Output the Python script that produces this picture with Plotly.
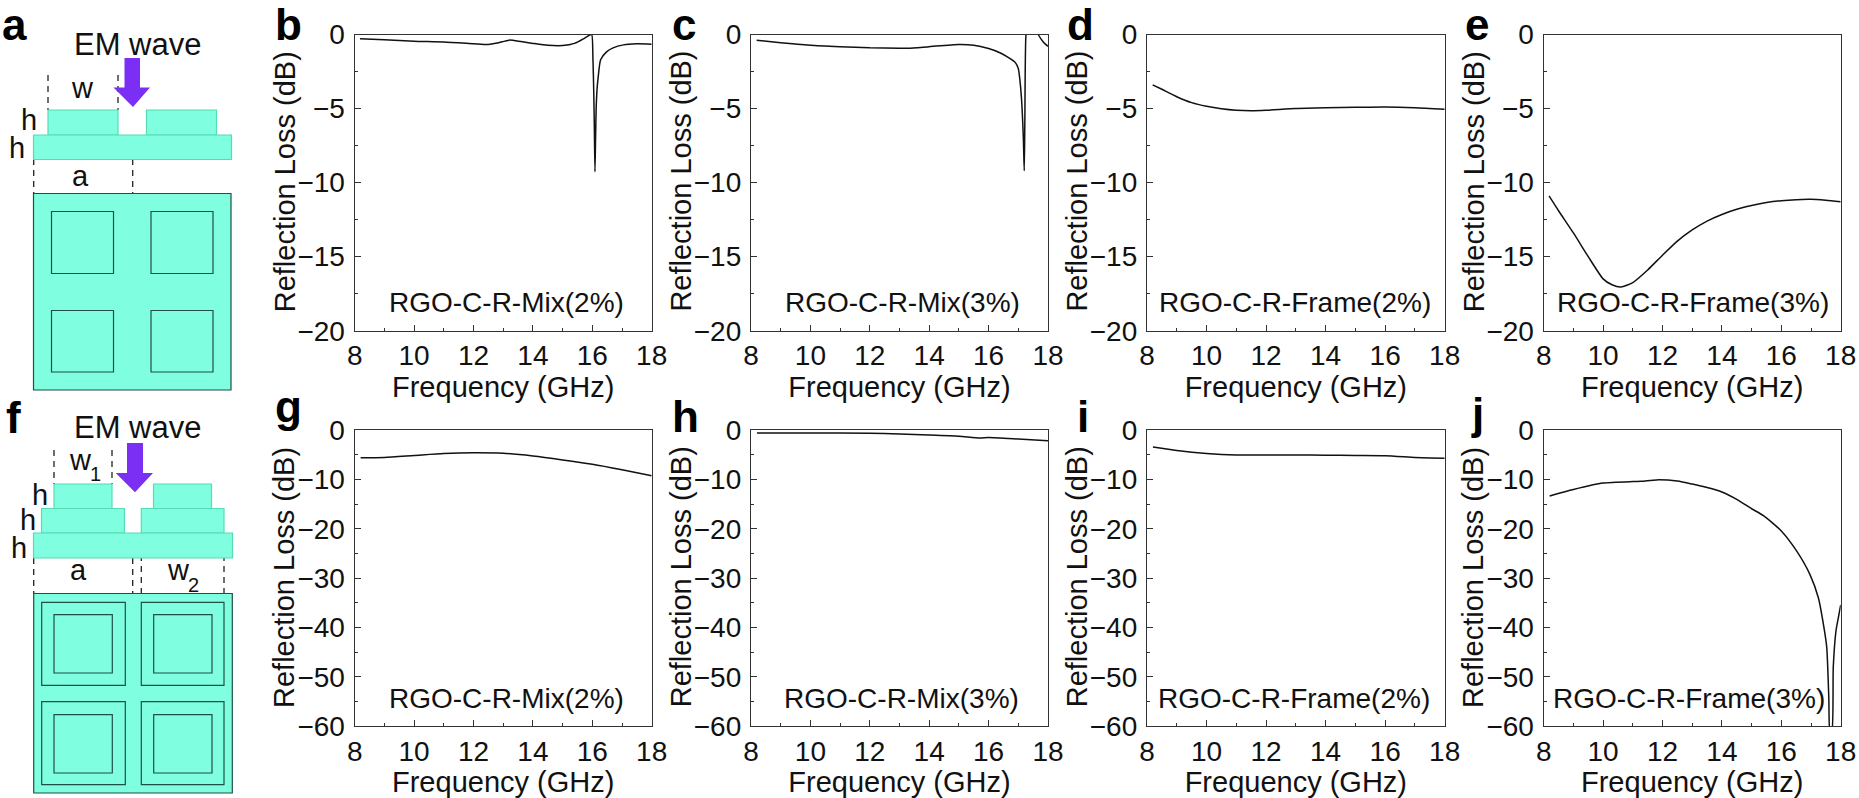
import plotly.graph_objects as go

W, H = 1859, 798
FONT = "Liberation Sans"

freq_b = [8.18, 9, 10, 11, 12, 12.5, 12.8, 13.2, 13.6, 14, 14.5, 15, 15.4, 15.7, 15.9, 15.98, 16.02, 16.05, 16.07, 16.09, 16.11, 16.13, 16.16, 16.2, 16.28, 16.48, 16.7, 17.05, 17.5, 18]
loss_b = [-0.29, -0.36, -0.45, -0.5, -0.62, -0.68, -0.58, -0.38, -0.48, -0.6, -0.73, -0.75, -0.6, -0.3, -0.05, 0, -1.5, -4, -6.5, -9.27, -7, -5, -3.7, -2.85, -1.7, -1.17, -0.9, -0.7, -0.63, -0.65]
freq_c = [8.19, 9, 10, 11, 12, 13, 13.3, 14, 15, 15.5, 16, 16.4, 16.7, 16.9, 17.0, 17.05, 17.11, 17.17, 17.2, 17.22, 17.26, 17.3, 17.6, 17.67, 17.84, 18]
loss_c = [-0.38, -0.55, -0.72, -0.82, -0.9, -0.92, -0.93, -0.82, -0.67, -0.72, -0.95, -1.25, -1.6, -1.9, -2.3, -3, -4.4, -7, -9.2, -6, 0, 0.3, 0.3, 0, -0.5, -0.8]
freq_d = [8.19, 8.5, 9, 9.5, 10, 10.5, 11, 11.5, 12, 13, 14, 15, 16, 17, 18]
loss_d = [-3.4, -3.7, -4.2, -4.6, -4.85, -5.02, -5.12, -5.15, -5.12, -5.0, -4.95, -4.92, -4.9, -4.95, -5.05]
freq_e = [8.18, 8.5, 9, 9.5, 10, 10.3, 10.6, 11, 11.5, 12, 12.5, 13, 13.5, 14, 14.5, 15, 15.5, 16, 16.5, 17, 17.5, 18]
loss_e = [-10.9, -11.9, -13.4, -15, -16.5, -16.9, -17.05, -16.75, -15.9, -14.9, -13.95, -13.2, -12.6, -12.15, -11.8, -11.55, -11.35, -11.22, -11.15, -11.13, -11.2, -11.3]
freq_g = [8.2, 9, 10, 11, 12, 13, 14, 15, 16, 17, 18]
loss_g = [-5.55, -5.5, -5.1, -4.7, -4.55, -4.65, -5.2, -6, -6.9, -8, -9.2]
freq_h = [8.2, 10, 12, 13, 14, 15, 15.7, 16, 17, 18]
loss_h = [-0.55, -0.55, -0.6, -0.75, -0.95, -1.2, -1.55, -1.45, -1.75, -2.1]
freq_i = [8.2, 9, 10, 11, 12, 13, 14, 15, 16, 17, 17.5, 18]
loss_i = [-3.4, -4.1, -4.7, -5, -5, -5, -5.05, -5.1, -5.15, -5.5, -5.6, -5.65]
freq_j = [8.2, 9, 10, 11, 11.3, 11.8, 12.5, 13, 13.5, 14, 14.5, 15, 15.4, 16, 16.52, 16.97, 17.25, 17.42, 17.53, 17.6, 17.64, 17.7, 17.75, 17.84, 17.92, 18]
loss_j = [-13.3, -12, -10.7, -10.4, -10.35, -10.05, -10.3, -10.9, -11.6, -12.5, -14, -15.9, -17.3, -20.4, -24.5, -29.3, -34, -39.4, -44, -54.3, -61, -61, -48, -40.7, -38, -35.4]

panel_labels = ["RGO-C-R-Mix(2%)", "RGO-C-R-Mix(3%)", "RGO-C-R-Frame(2%)", "RGO-C-R-Frame(3%)"]
x_ticks = [8, 10, 12, 14, 16, 18]
y_ticks_top = [0, -5, -10, -15, -20]
y_ticks_bottom = [0, -10, -20, -30, -40, -50, -60]
x_title = "Frequency (GHz)"
y_title = "Reflection Loss (dB)"

# panel boxes in pixels: left, right, top, bottom
COLS = [(354.7, 651.7), (751, 1048), (1147, 1444.7), (1543.7, 1840.7)]
ROWS = [(34.5, 330.7), (430.3, 726.3)]

panels = [
    ("b", freq_b, loss_b, 0, 0, panel_labels[0], 506),
    ("c", freq_c, loss_c, 1, 0, panel_labels[1], 902.5),
    ("d", freq_d, loss_d, 2, 0, panel_labels[2], 1294.5),
    ("e", freq_e, loss_e, 3, 0, panel_labels[3], 1693),
    ("g", freq_g, loss_g, 0, 1, panel_labels[0], 506.5),
    ("h", freq_h, loss_h, 1, 1, panel_labels[1], 901.7),
    ("i", freq_i, loss_i, 2, 1, panel_labels[2], 1294),
    ("j", freq_j, loss_j, 3, 1, panel_labels[3], 1689),
]
letter_pos = {"a": (14, 25), "b": (288, 25), "c": (684, 25), "d": (1080, 25), "e": (1477, 25),
              "f": (13, 417), "g": (288, 406), "h": (685, 416), "i": (1083, 416), "j": (1477, 413)}

AQUA = "#7FFFDF"
CROSS_EDGE = "#55dcb4"
PLAN_EDGE = "#1f4f45"
PURPLE = "#7B2FF5"

fig = go.Figure()
annotations, shapes = [], []


def px_x(v):
    return v / W


def px_y(v):
    return 1 - v / H


def text(x, y, s, size, bold=False, anchor="center", color="#111111", angle=0):
    annotations.append(dict(x=px_x(x), y=px_y(y), xref="paper", yref="paper", text=f"<b>{s}</b>" if bold else s,
                            showarrow=False, xanchor=anchor, yanchor="middle", borderpad=0, textangle=angle,
                            font=dict(family=FONT, size=size, color=color)))


def rect(x0, y0, x1, y1, fill, edge, lw=1.2):
    shapes.append(dict(type="rect", xref="paper", yref="paper", x0=px_x(x0), x1=px_x(x1), y0=px_y(y0), y1=px_y(y1),
                       fillcolor=fill, line=dict(color=edge, width=lw), layer="above"))


def dash(x, y0, y1):
    shapes.append(dict(type="line", xref="paper", yref="paper", x0=px_x(x), x1=px_x(x), y0=px_y(y0), y1=px_y(y1),
                       line=dict(color="#222222", width=1.3, dash="6px,5px"), layer="above"))


def arrow(sx0, sx1, sy0, sy1, hx0, hx1, tx, ty):
    pts = [(sx0, sy0), (sx1, sy0), (sx1, sy1), (hx1, sy1), (tx, ty), (hx0, sy1), (sx0, sy1)]
    path = "M " + " L ".join(f"{px_x(a):.5f},{px_y(b):.5f}" for a, b in pts) + " Z"
    shapes.append(dict(type="path", xref="paper", yref="paper", path=path, fillcolor=PURPLE,
                       line=dict(color=PURPLE, width=0), layer="above"))


for i, (letter, xs, ys, c, r, label, label_x) in enumerate(panels, start=1):
    fig.add_trace(go.Scatter(x=xs, y=ys, mode="lines", line=dict(color="#111111", width=1.5, shape="spline", smoothing=0.6),
                             xaxis=f"x{i}", yaxis=f"y{i}", showlegend=False, hoverinfo="skip"))
    left, right = COLS[c]
    top, bottom = ROWS[r]
    ymin = -20 if r == 0 else -60
    yticks = y_ticks_top if r == 0 else y_ticks_bottom
    common = dict(showgrid=False, zeroline=False, showline=True, linecolor="#333333", linewidth=1.3, mirror=True,
                  ticks="inside", ticklen=6, tickwidth=1.2, tickcolor="#333333",
                  tickfont=dict(family=FONT, size=28, color="#111111"), automargin=False)
    fig.update_layout({
        f"xaxis{i}": dict(common, domain=[left / W, right / W], range=[8, 18], tickvals=x_ticks,
                          anchor=f"y{i}", minor=dict(ticks="inside", ticklen=3, dtick=1, tickcolor="#333333", tickwidth=1.2),
                          title=dict(text=x_title, font=dict(family=FONT, size=29, color="#111111"), standoff=0)),
        f"yaxis{i}": dict(common, domain=[1 - bottom / H, 1 - top / H], range=[ymin, 0], tickvals=yticks, ticklabelstandoff=3,
                          anchor=f"x{i}", minor=dict(ticks="inside", ticklen=3, dtick=2.5 if r == 0 else 5, tickcolor="#333333", tickwidth=1.2)),
    })
    text(left - 70, (top + bottom) / 2 - 1, y_title, 29, angle=-90)
    text(label_x, top + 268, label, 28)

for k, (x, y) in letter_pos.items():
    text(x, y, k, 44, bold=True, color="black")

# schematic a
text(137, 45, "EM wave", 31)
text(82, 88, "w", 29)
text(29, 120, "h", 29)
text(17, 148, "h", 29)
text(80, 176, "a", 29)
for x in (48, 118):
    dash(x, 75, 110)
for x in (33.7, 132.7):
    dash(x, 159, 193)
rect(48, 110, 118, 135, AQUA, CROSS_EDGE)
rect(146.5, 110, 216.5, 135, AQUA, CROSS_EDGE)
rect(33.5, 135, 231.5, 159.5, AQUA, CROSS_EDGE)
rect(33.5, 193.5, 231, 390, AQUA, PLAN_EDGE)
for x0, x1 in ((51.5, 113.5), (151, 213)):
    for y0, y1 in ((211.5, 273.5), (310.5, 372)):
        rect(x0, y0, x1, y1, AQUA, PLAN_EDGE)
arrow(124.5, 140, 58, 87.5, 113.5, 150, 133, 107)

# schematic f
o = 398
text(137, o + 29, "EM wave", 31)
text(80, o + 62, "w", 29)
text(95, o + 76, "1", 20)
text(40, o + 97, "h", 29)
text(28, o + 122, "h", 29)
text(19, o + 150, "h", 29)
text(78, o + 172, "a", 29)
text(178, o + 172, "w", 29)
text(193, o + 187, "2", 20)
for x in (54, 112):
    dash(x, o + 52, o + 86)
for x in (33.7, 132.7):
    dash(x, o + 160, o + 195)
for x in (141.3, 224):
    dash(x, o + 135, o + 204)
for x0, x1 in ((54, 112), (153.5, 211.5)):
    rect(x0, o + 86, x1, o + 110.5, AQUA, CROSS_EDGE)
for x0, x1 in ((41.5, 124.5), (141.3, 224)):
    rect(x0, o + 110.5, x1, o + 135, AQUA, CROSS_EDGE)
rect(33.5, o + 135, 232.5, o + 160, AQUA, CROSS_EDGE)
rect(33.7, o + 195.5, 232.3, o + 395, AQUA, PLAN_EDGE)
for x0, x1, ix0, ix1 in ((41.7, 125.3, 54, 112.3), (141.3, 224, 153.7, 212)):
    for y0, y1, iy0, iy1 in ((204.3, 287.3, 216.7, 275), (303.7, 386.7, 316.7, 375)):
        rect(x0, o + y0, x1, o + y1, AQUA, PLAN_EDGE)
        rect(ix0, o + iy0, ix1, o + iy1, AQUA, PLAN_EDGE)
arrow(127, 143, o + 45, o + 75, 115.7, 153, 135, o + 94.3)

fig.update_layout(width=W, height=H, margin=dict(l=0, r=0, t=0, b=0), paper_bgcolor="white", plot_bgcolor="white",
                  showlegend=False, annotations=annotations, shapes=shapes)

fig.write_html("out.html", config={"displayModeBar": False},
               post_script="document.body.style.margin='0';document.documentElement.style.overflow='hidden';")
